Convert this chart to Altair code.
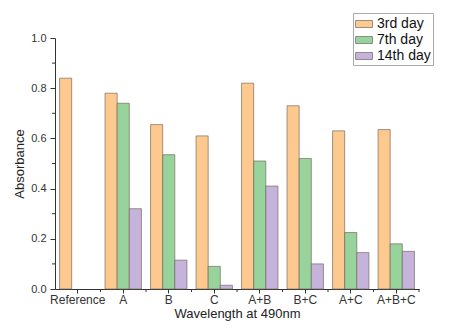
import altair as alt
import pandas as pd

categories = ["Reference", "A", "B", "C", "A+B", "B+C", "A+C", "A+B+C"]
series = ["3rd day", "7th day", "14th day"]
day3 = [0.84, 0.78, 0.655, 0.61, 0.82, 0.73, 0.63, 0.635]
day7 = [None, 0.74, 0.535, 0.09, 0.51, 0.52, 0.225, 0.18]
day14 = [None, 0.32, 0.115, 0.015, 0.41, 0.10, 0.145, 0.15]
colors = ["#FDC98E", "#97D39A", "#C5B3DB"]
minor_ticks = [0.1, 0.3, 0.5, 0.7, 0.9]

rows = []
for s, vals in zip(series, [day3, day7, day14]):
    for c, v in zip(categories, vals):
        if v is not None:
            rows.append({"cat": c, "series": s, "value": v})
df = pd.DataFrame(rows)

FONT = "Liberation Sans"
H = 251
W = 364
STEP = W / (len(categories) - 0.2 + 0.2)

xscale = alt.Scale(domain=categories, paddingInner=0.2, paddingOuter=0.1)

bars = alt.Chart(df).mark_bar(stroke="#6e6258", strokeWidth=0.8, strokeOpacity=0.8).encode(
    x=alt.X("cat:N", sort=categories, scale=xscale,
            axis=alt.Axis(title="Wavelength at 490nm", labelAngle=0, labelFontSize=12,
                          titleFontSize=13, titleFontWeight="normal", titlePadding=2,
                          labelPadding=1, tickSize=4, domainColor="#333", tickColor="#333",
                          labelColor="#333", titleColor="#222", labelFont=FONT, titleFont=FONT)),
    xOffset=alt.XOffset("series:N", sort=series, scale=alt.Scale(paddingInner=0, paddingOuter=0)),
    y=alt.Y("value:Q", scale=alt.Scale(domain=[0, 1], nice=False),
            axis=alt.Axis(title="Absorbance", values=[0, 0.2, 0.4, 0.6, 0.8, 1.0], format=".1f",
                          labelFontSize=11, titleFontSize=13, titleFontWeight="normal",
                          tickSize=5, labelPadding=4, titlePadding=4, grid=False,
                          domainColor="#333", tickColor="#333", labelColor="#333",
                          titleColor="#222", labelFont=FONT, titleFont=FONT)),
    color=alt.Color("series:N", sort=series,
                    scale=alt.Scale(domain=series, range=colors),
                    legend=alt.Legend(title=None, orient="none", legendX=298, legendY=-25,
                                      symbolType="M-1,-0.41H1V0.41H-1Z", symbolSize=289,
                                      symbolStrokeColor="#777", symbolStrokeWidth=0.8,
                                      symbolOpacity=1, labelFontSize=14, labelFont=FONT,
                                      labelColor="#111", rowPadding=-1.5, padding=2,
                                      strokeColor="#aaa", fillColor="white",
                                      labelOffset=4)),
)

minor_y = alt.Chart(pd.DataFrame({"v": minor_ticks})).mark_rule(color="#333", strokeWidth=1).encode(
    y=alt.Y("v:Q", scale=alt.Scale(domain=[0, 1], nice=False)),
    x=alt.value(-3),
    x2=alt.value(0),
)

minor_x = alt.Chart(pd.DataFrame({"cat": categories})).mark_rule(
    color="#333", strokeWidth=1, xOffset=0.1 * STEP
).encode(
    x=alt.X("cat:N", sort=categories, scale=xscale, bandPosition=1),
    y=alt.value(H),
    y2=alt.value(H + 3),
)

chart = alt.layer(bars, minor_y, minor_x).properties(
    width=W, height=H,
    autosize=alt.AutoSizeParams(type="none"),
    padding={"left": 47, "top": 30, "right": 23, "bottom": 32},
).configure_view(stroke=None)

chart.save("out.html", embed_options={"renderer": "svg", "actions": False})
